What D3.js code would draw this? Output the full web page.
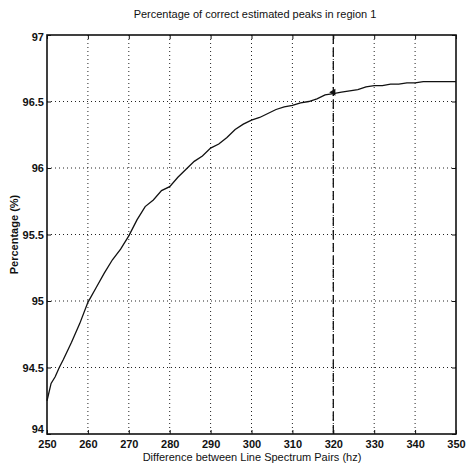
<!DOCTYPE html>
<html>
<head>
<meta charset="utf-8">
<script src="https://cdn.jsdelivr.net/npm/d3@7"></script>
<style>
  body { margin: 0; background: #fff; }
  text { font-family: "Liberation Sans", Arial, sans-serif; fill: #111; }
</style>
</head>
<body>
<div class="canvas"></div>
<script>
// distance between LSPs (hz) and percentage of correct peaks
const diffHz = [250, 251, 252, 253, 254, 256, 258, 260, 262, 264, 266, 268, 270, 272, 274, 276, 278, 280,
  282, 284, 286, 288, 290, 292, 294, 296, 298, 300, 302, 304, 306, 308, 310, 312, 314, 316, 318, 320,
  322, 324, 326, 328, 330, 332, 334, 336, 338, 340, 342, 344, 346, 348, 350];
const percent = [94.25, 94.38, 94.43, 94.50, 94.56, 94.69, 94.83, 94.99, 95.10, 95.21, 95.31, 95.39, 95.49,
  95.61, 95.71, 95.76, 95.83, 95.86, 95.93, 95.99, 96.05, 96.09, 96.15, 96.18, 96.23, 96.29, 96.33, 96.36,
  96.38, 96.41, 96.44, 96.46, 96.47, 96.49, 96.50, 96.52, 96.55, 96.56, 96.57, 96.58, 96.59, 96.61, 96.62,
  96.62, 96.63, 96.63, 96.64, 96.64, 96.65, 96.65, 96.65, 96.65, 96.65];
const xTicks = [250, 260, 270, 280, 290, 300, 310, 320, 330, 340, 350];
const yTicks = [94, 94.5, 95, 95.5, 96, 96.5, 97];
const markX = 320, markY = 96.57;

const dims = {width: 467, height: 467};
const m = {top: 35, right: 11, bottom: 33, left: 47};

const svg = d3.select('.canvas')
  .append('svg')
    .attr('width', dims.width)
    .attr('height', dims.height);

const x = d3.scaleLinear().domain([250, 350]).range([m.left, dims.width - m.right]);
const y = d3.scaleLinear().domain([94, 97]).range([dims.height - m.bottom, m.top]);

// dotted grid
svg.append('g').selectAll('line')
  .data(xTicks.slice(1, -1))
  .enter().append('line')
    .attr('x1', d => x(d)).attr('x2', d => x(d))
    .attr('y1', y(97)).attr('y2', y(94))
    .attr('stroke', '#222').attr('stroke-width', 1)
    .attr('stroke-dasharray', '1,3');

svg.append('g').selectAll('line')
  .data(yTicks.slice(1, -1))
  .enter().append('line')
    .attr('x1', x(250)).attr('x2', x(350))
    .attr('y1', d => y(d)).attr('y2', d => y(d))
    .attr('stroke', '#222').attr('stroke-width', 1)
    .attr('stroke-dasharray', '1,3');

// axes with inward ticks
const xAxis = svg.append('g')
  .attr('transform', `translate(0,${y(94)})`)
  .call(d3.axisBottom(x).tickValues(xTicks).tickSizeInner(-4).tickSizeOuter(0).tickPadding(6));
const xTop = svg.append('g')
  .attr('transform', `translate(0,${y(97)})`)
  .call(d3.axisTop(x).tickValues(xTicks).tickSizeInner(-4).tickSizeOuter(0).tickFormat(''));
const yAxis = svg.append('g')
  .attr('transform', `translate(${x(250)},0)`)
  .call(d3.axisLeft(y).tickValues(yTicks).tickSizeInner(-4).tickSizeOuter(0).tickPadding(3)
    .tickFormat(d3.format('')));
const yRight = svg.append('g')
  .attr('transform', `translate(${x(350)},0)`)
  .call(d3.axisRight(y).tickValues(yTicks).tickSizeInner(-4).tickSizeOuter(0).tickFormat(''));

[xAxis, xTop, yAxis, yRight].forEach(g => {
  g.select('.domain').remove();
  g.selectAll('line').attr('stroke', '#111');
});
xAxis.selectAll('text').attr('font-size', 11).attr('font-weight', 'bold').attr('fill', '#111');
yAxis.selectAll('text').attr('font-size', 11).attr('font-weight', 'bold').attr('fill', '#111');
yAxis.selectAll('.tick').filter(d => d == 94).select('text').attr('dy', '-0.1em');
yAxis.selectAll('.tick').filter(d => d == 97).select('text').attr('dy', '0.5em');

// frame
svg.append('rect')
  .attr('x', x(250)).attr('y', y(97))
  .attr('width', x(350) - x(250)).attr('height', y(94) - y(97))
  .attr('fill', 'none').attr('stroke', '#111').attr('stroke-width', 1.6);

// dashed marker line
svg.append('line')
  .attr('x1', x(markX)).attr('x2', x(markX))
  .attr('y1', y(97)).attr('y2', y(94))
  .attr('stroke', '#111').attr('stroke-width', 1.3)
  .attr('stroke-dasharray', '9,4');

// curve
const line = d3.line()
  .x((d, i) => x(diffHz[i]))
  .y(d => y(d));

svg.append('path')
  .attr('d', line(percent))
  .attr('fill', 'none')
  .attr('stroke', '#111')
  .attr('stroke-width', 1.3);

svg.append('path')
  .attr('d', d3.symbol(d3.symbolTriangle, 22)())
  .attr('transform', `translate(${x(markX)},${y(markY)}) rotate(-90)`)
  .attr('fill', '#111');

// labels
svg.append('text')
  .attr('x', 255).attr('y', 18)
  .attr('text-anchor', 'middle')
  .attr('font-size', 11)
  .text('Percentage of correct estimated peaks in region 1');

svg.append('text')
  .attr('x', 252).attr('y', 461)
  .attr('text-anchor', 'middle')
  .attr('font-size', 11)
  .text('Difference between Line Spectrum Pairs (hz)');

svg.append('text')
  .attr('transform', `translate(18,${(y(94) + y(97)) / 2}) rotate(-90)`)
  .attr('text-anchor', 'middle')
  .attr('font-size', 11)
  .attr('font-weight', 'bold')
  .text('Percentage (%)');
</script>
</body>
</html>
